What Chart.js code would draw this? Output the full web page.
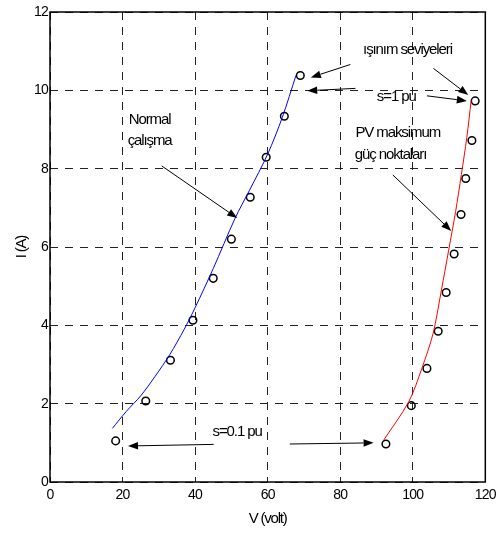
<!DOCTYPE html>
<html lang="tr">
<head>
<meta charset="UTF-8">
<title>PV I-V</title>
<script src="https://cdn.jsdelivr.net/npm/chart.js"></script>
<style>
  html, body { margin: 0; padding: 0; background: #fff; }
  #wrap { width: 502px; height: 533px; position: relative; }
</style>
</head>
<body>
<div id="wrap"><canvas id="pv"></canvas></div>
<script>
// normal calisma egrisi (mavi)
const blueLineV = [17.2, 21, 25, 29, 33, 37, 40, 45, 51, 55, 60, 64, 67.8];
const blueLineI = [1.37, 1.8, 2.2, 2.7, 3.25, 3.9, 4.45, 5.45, 6.73, 7.45, 8.37, 9.3, 10.38];
const blueMarkV = [18.1, 26.4, 33.2, 39.4, 45.0, 50.0, 55.2, 59.6, 64.6, 69.0];
const blueMarkI = [1.05, 2.07, 3.11, 4.13, 5.20, 6.20, 7.27, 8.29, 9.34, 10.38];

// PV maksimum guc noktalari (kirmizi)
const redLineV = [92.0, 98.9, 102.5, 105.6, 107.8, 109.9, 111.8, 113.4, 114.9, 116.1];
const redLineI = [1.07, 2.05, 2.9, 3.79, 4.85, 5.92, 6.9, 7.85, 8.8, 9.74];
const redMarkV = [92.6, 99.6, 103.9, 107.0, 109.2, 111.4, 113.3, 114.6, 116.3, 117.2];
const redMarkI = [0.97, 1.95, 2.90, 3.85, 4.84, 5.82, 6.83, 7.75, 8.72, 9.73];

const xTicks = [0, 20, 40, 60, 80, 100, 120];
const yTicks = [0, 2, 4, 6, 8, 10, 12];
const xTitle = 'V (volt)';
const yTitle = 'I (A)';

// yazilar (veri koordinatlarinda, sol hizali)
const notes = [
  { text: 'Normal', x: 21.7, y: 9.25 },
  { text: 'çalışma', x: 21.4, y: 8.71 },
  { text: 'ışınım seviyeleri', x: 86.3, y: 11.03 },
  { text: 's=1 pu', x: 90.1, y: 9.83 },
  { text: 'PV maksimum', x: 84.2, y: 8.91 },
  { text: 'güç noktaları', x: 84.0, y: 8.35 },
  { text: 's=0.1 pu', x: 44.8, y: 1.28 }
];
// oklar: [x1, y1, x2, y2]
const arrows = [
  [30.8, 8.07, 51.6, 6.74],
  [82.8, 10.66, 71.9, 10.33],
  [105.7, 10.56, 115.3, 9.88],
  [84.2, 10.05, 70.9, 9.99],
  [103.9, 9.86, 114.9, 9.73],
  [94.5, 7.84, 110.6, 6.41],
  [45.1, 0.96, 21.5, 0.92],
  [66.1, 0.97, 89.2, 1.0]
];

const zip = (a, b) => a.map((v, i) => ({ x: v, y: b[i] }));
const FAMILY = '"Liberation Sans", Arial, sans-serif';

const annotate = {
  id: 'annotate',
  beforeDraw(chart) {
    chart.ctx.letterSpacing = '-0.8px';
  },
  afterDraw(chart) {
    const ctx = chart.ctx;
    const xs = chart.scales.x, ys = chart.scales.y;
    const a = chart.chartArea;
    ctx.save();
    // kutu
    ctx.strokeStyle = '#000';
    ctx.lineWidth = 1.5;
    ctx.strokeRect(a.left, a.top, a.right - a.left, a.bottom - a.top);

    ctx.fillStyle = '#000';
    // eksen basliklari
    ctx.font = '15px ' + FAMILY;
    ctx.letterSpacing = '-1.2px';
    ctx.textAlign = 'center';
    ctx.textBaseline = 'middle';
    ctx.fillText(xTitle, (a.left + a.right) / 2, 519);
    ctx.save();
    ctx.translate(22, (a.top + a.bottom) / 2);
    ctx.rotate(-Math.PI / 2);
    ctx.fillText(yTitle, 0, 0);
    ctx.restore();

    ctx.font = '15px ' + FAMILY;
    ctx.letterSpacing = '-1.1px';
    ctx.textAlign = 'left';
    notes.forEach(n => {
      ctx.fillText(n.text, xs.getPixelForValue(n.x), ys.getPixelForValue(n.y));
    });

    ctx.lineWidth = 1;
    arrows.forEach(r => {
      const x1 = xs.getPixelForValue(r[0]), y1 = ys.getPixelForValue(r[1]);
      const x2 = xs.getPixelForValue(r[2]), y2 = ys.getPixelForValue(r[3]);
      const ang = Math.atan2(y2 - y1, x2 - x1);
      const len = 10, w = 3.8;
      const bx = x2 - len * Math.cos(ang), by = y2 - len * Math.sin(ang);
      ctx.beginPath();
      ctx.moveTo(x1, y1);
      ctx.lineTo(bx, by);
      ctx.stroke();
      ctx.beginPath();
      ctx.moveTo(x2, y2);
      ctx.lineTo(bx + w * Math.sin(ang), by - w * Math.cos(ang));
      ctx.lineTo(bx - w * Math.sin(ang), by + w * Math.cos(ang));
      ctx.closePath();
      ctx.fill();
    });
    ctx.restore();
  }
};

const tickFont = { family: FAMILY, size: 14 };
const gridOpts = { color: '#222', lineWidth: 1, drawTicks: false };

new Chart(document.getElementById('pv'), {
  type: 'line',
  data: {
    datasets: [
      { data: zip(blueLineV, blueLineI), borderColor: '#0000ff', borderWidth: 1, pointRadius: 0, tension: 0.3, fill: false },
      { data: zip(blueMarkV, blueMarkI), showLine: false, pointRadius: 3.8, pointBorderWidth: 1.5, pointBorderColor: '#000', pointBackgroundColor: 'rgba(0,0,0,0)' },
      { data: zip(redLineV, redLineI), borderColor: '#ff0000', borderWidth: 1, pointRadius: 0, tension: 0.3, fill: false },
      { data: zip(redMarkV, redMarkI), showLine: false, pointRadius: 3.8, pointBorderWidth: 1.5, pointBorderColor: '#000', pointBackgroundColor: 'rgba(0,0,0,0)' }
    ]
  },
  options: {
    responsive: true,
    maintainAspectRatio: false,
    animation: false,
    layout: { padding: { left: 0, right: 15, top: 12, bottom: 0 } },
    plugins: { legend: { display: false }, tooltip: { enabled: false } },
    scales: {
      x: {
        type: 'linear', min: 0, max: 120,
        afterBuildTicks: s => { s.ticks = xTicks.map(v => ({ value: v })); },
        afterFit: s => { s.height = 51; },
        grid: gridOpts,
        border: { display: false, dash: [8, 7] },
        ticks: { font: tickFont, color: '#000', padding: 5, maxRotation: 0 }
      },
      y: {
        type: 'linear', min: 0, max: 12,
        afterBuildTicks: s => { s.ticks = yTicks.map(v => ({ value: v })); },
        afterFit: s => { s.width = 50; },
        grid: gridOpts,
        border: { display: false, dash: [8, 7] },
        ticks: { font: tickFont, color: '#000', padding: 2 }
      }
    }
  },
  plugins: [annotate]
});
</script>
</body>
</html>
